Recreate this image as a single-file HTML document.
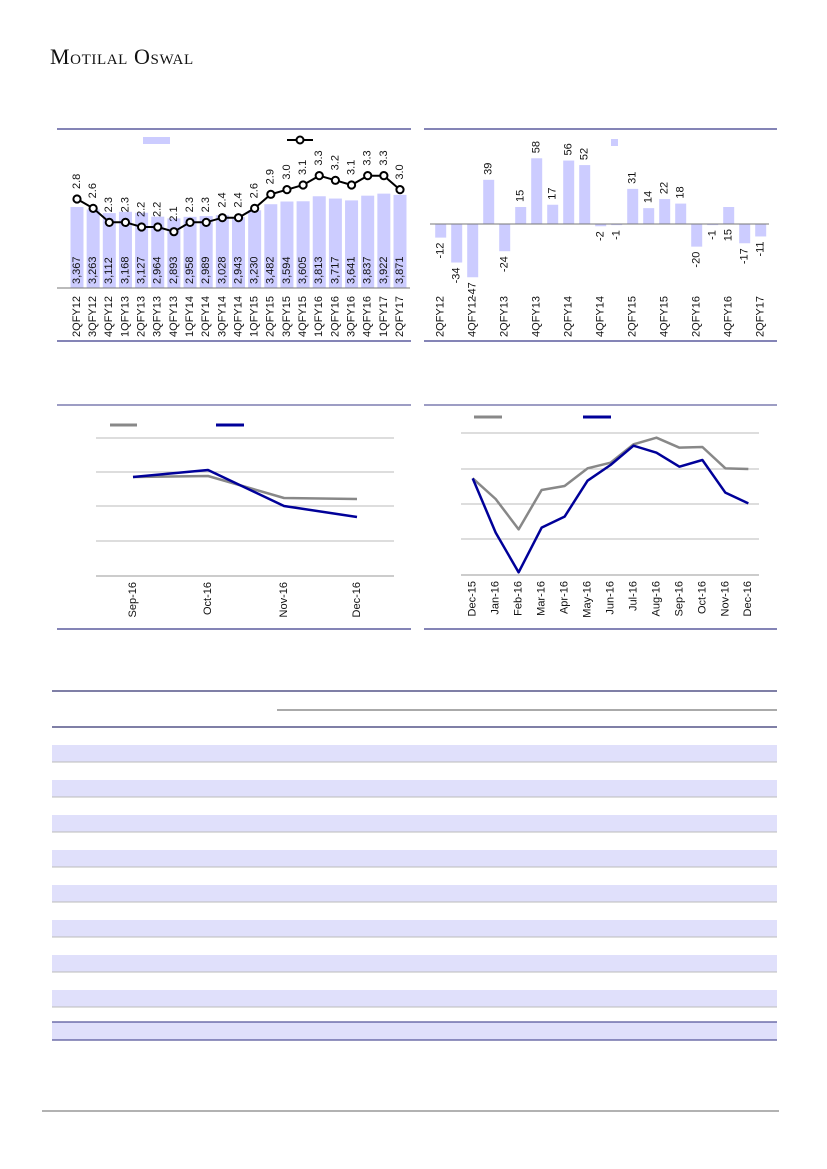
<!DOCTYPE html>
<html><head><meta charset="utf-8"><style>
html,body{margin:0;padding:0;background:#fff;}
body{width:827px;height:1169px;position:relative;overflow:hidden;font-family:"Liberation Sans",sans-serif;}
.logo{position:absolute;left:50px;top:44px;font-family:"Liberation Serif",serif;font-size:22px;font-variant:small-caps;letter-spacing:0.6px;color:#111;}
svg{position:absolute;left:0;top:0;}
</style></head><body>
<div class="logo">Motilal Oswal</div>
<svg id="s" width="827" height="1169" xmlns="http://www.w3.org/2000/svg" font-family="Liberation Sans, sans-serif"></svg>
<script>
var s=document.getElementById('s'),h='';
function L(x1,y1,x2,y2,c,w){h+='<line x1="'+x1+'" y1="'+y1+'" x2="'+x2+'" y2="'+y2+'" stroke="'+c+'" stroke-width="'+w+'"/>';}
function R(x,y,w,hh,c){h+='<rect x="'+x+'" y="'+y+'" width="'+w+'" height="'+hh+'" fill="'+c+'"/>';}
function T(x,y,t,anchor,fs){h+='<text transform="translate('+x+','+y+') rotate(-90)" text-anchor="'+anchor+'" dominant-baseline="middle" font-size="'+(fs||11)+'" fill="#111">'+t+'</text>';}
var NAVY='#3b3b8a',BAR='#ccccff';
L(57,129,411,129,NAVY,1.3);L(57,341,411,341,NAVY,1.3);
L(424,129,777,129,NAVY,1.3);L(424,341,777,341,NAVY,1.3);
L(57,405,411,405,NAVY,1);L(57,629,411,629,NAVY,1.3);
L(424,405,777,405,NAVY,1);L(424,629,777,629,NAVY,1.3);
R(143,137,27,7,BAR);L(287,140,313,140,'#000',2);h+='<circle cx="300" cy="140" r="3.5" fill="#fff" stroke="#000" stroke-width="2"/>';
var q1=['2QFY12','3QFY12','4QFY12','1QFY13','2QFY13','3QFY13','4QFY13','1QFY14','2QFY14','3QFY14','4QFY14','1QFY15','2QFY15','3QFY15','4QFY15','1QFY16','2QFY16','3QFY16','4QFY16','1QFY17','2QFY17'];
var bb=[3367,3263,3112,3168,3127,2964,2893,2958,2989,3028,2943,3230,3482,3594,3605,3813,3717,3641,3837,3922,3871];
var ll=[2.8,2.6,2.3,2.3,2.2,2.2,2.1,2.3,2.3,2.4,2.4,2.6,2.9,3.0,3.1,3.3,3.2,3.1,3.3,3.3,3.0];
var n=bb.length, sp=(400-77)/(n-1), pts='';
for(var i=0;i<n;i++){var x=77+i*sp,hh=bb[i]*0.02406;R(x-6.5,288-hh,13,hh,BAR);}
L(57,288,410,288,'#777',1);
for(var i=0;i<n;i++){var x=77+i*sp,y=199-(ll[i]-2.8)*46.7;pts+=(i?' ':'')+x.toFixed(1)+','+y.toFixed(1);}
h+='<polyline points="'+pts+'" fill="none" stroke="#000" stroke-width="2"/>';
for(var i=0;i<n;i++){var x=77+i*sp,y=199-(ll[i]-2.8)*46.7;h+='<circle cx="'+x+'" cy="'+y+'" r="3.6" fill="#fff" stroke="#000" stroke-width="2"/>';
T(x,y-10,ll[i].toFixed(1),'start');T(x,284,bb[i].toLocaleString('en-US'),'start');T(x,296,q1[i],'end');}
var v2=[-12,-34,-47,39,-24,15,58,17,56,52,-2,-1,31,14,22,18,-20,-1,15,-17,-11];
var below=[1,1,1,0,1,0,0,0,0,0,1,1,0,0,0,0,1,1,1,1,1];
R(611,139,7,7,BAR);
for(var i=0;i<21;i++){var x=440.7+i*16,hh=v2[i]*1.133;
 if(v2[i]>=0)R(x-5.5,224-hh,11,hh,BAR);else R(x-5.5,224,11,-hh,BAR);
 var yb=v2[i]<0?224-hh:224;var yt=v2[i]>0?224-hh:224;
 if(below[i])T(x,yb+5,v2[i],'end');else T(x,yt-5,v2[i],'start');
 if(i%2==0)T(x,296,q1[i],'end');}
L(430,224,769,224,'#777',1);
[438,472,506,541].forEach(function(y){L(96,y,394,y,'#bbb',1);});L(96,576,394,576,'#999',1);
L(110,425,137,425,'#888',3);L(216,425,244,425,'#000099',3);
var xs3=[133,208,284,357],g3=[477,476,498,499],b3=[477,470,506,517],m3=['Sep-16','Oct-16','Nov-16','Dec-16'];
function PL(xs,ys,c){var p=xs.map(function(x,i){return x+','+ys[i]}).join(' ');h+='<polyline points="'+p+'" fill="none" stroke="'+c+'" stroke-width="2.5" stroke-linejoin="round"/>';}
PL(xs3,g3,'#888');PL(xs3,b3,'#000099');
xs3.forEach(function(x,i){T(x,582,m3[i],'end');});
[433,469,504,539].forEach(function(y){L(461,y,759,y,'#bbb',1);});L(461,575,759,575,'#999',1);
L(474,417,502,417,'#888',3);L(583,417,611,417,'#000099',3);
var gz=[235,297,388,270,258,205,188,133,113,143,141,205,207],bz=[235,398,517,383,350,242,195,137,158,200,180,278,310];
var m4=['Dec-15','Jan-16','Feb-16','Mar-16','Apr-16','May-16','Jun-16','Jul-16','Aug-16','Sep-16','Oct-16','Nov-16','Dec-16'];
var xs4=m4.map(function(_,i){return 472.7+i*22.97;});
PL(xs4,gz.map(function(v){return 400+v/3}),'#888');PL(xs4,bz.map(function(v){return 400+v/3}),'#000099');
xs4.forEach(function(x,i){T(x,581,m4[i],'end');});
L(52,691,777,691,'#555588',1.5);L(277,710,777,710,'#555',1);L(52,727,777,727,'#555588',1.5);
[745,780,815,850,885,920,955,990].forEach(function(y){R(52,y,725,17,'#e0e0fb');L(52,y+17,777,y+17,'#bbb',1);});
R(52,1022,725,18,'#e0e0fb');L(52,1022,777,1022,'#555599',1.3);L(52,1040,777,1040,'#555599',1.3);
L(42,1111,779,1111,'#666',1);
s.innerHTML=h;
</script>
</body></html>
